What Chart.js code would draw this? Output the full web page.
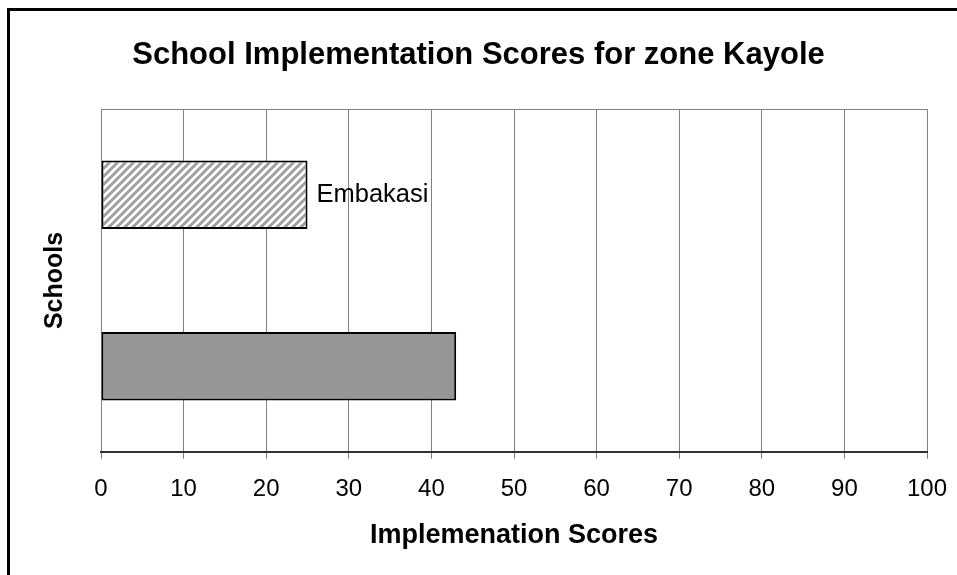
<!DOCTYPE html>
<html>
<head>
<meta charset="utf-8">
<script src="https://cdn.jsdelivr.net/npm/chart.js@4/dist/chart.umd.min.js"></script>
<style>
  html, body { margin: 0; padding: 0; background: #fff; }
  canvas { display: block; }
</style>
</head>
<body>
<canvas id="chart" width="957" height="575"></canvas>
<script>
const schools = ['Embakasi', 'Kayole'];
const barLabels = ['Embakasi', ''];
const scores = [25, 43];
const xTicks = [0, 10, 20, 30, 40, 50, 60, 70, 80, 90, 100];

const FONT = 'Arial, "Liberation Sans", sans-serif';

function makeHatch() {
  const s = 8;
  const c = document.createElement('canvas');
  c.width = s;
  c.height = s;
  const g = c.getContext('2d');
  g.fillStyle = '#fff';
  g.fillRect(0, 0, s, s);
  g.strokeStyle = '#a0a0a0';
  g.lineWidth = 3;
  g.beginPath();
  g.moveTo(-2, 2); g.lineTo(2, -2);
  g.moveTo(0, s); g.lineTo(s, 0);
  g.moveTo(s - 2, s + 2); g.lineTo(s + 2, s - 2);
  g.stroke();
  return g.createPattern(c, 'repeat');
}

const pageFrame = {
  id: 'pageFrame',
  beforeDraw(chart) {
    const ctx = chart.ctx;
    ctx.save();
    ctx.fillStyle = '#fff';
    ctx.fillRect(0, 0, chart.width, chart.height);
    ctx.strokeStyle = '#000';
    ctx.lineWidth = 3;
    ctx.strokeRect(8.5, 9.5, chart.width + 20, chart.height + 20);
    ctx.restore();
  },
  beforeDatasetsDraw(chart) {
    const a = chart.chartArea;
    const ctx = chart.ctx;
    ctx.save();
    ctx.strokeStyle = '#808080';
    ctx.lineWidth = 1;
    ctx.beginPath();
    ctx.moveTo(a.left, Math.round(a.top) + 0.5);
    ctx.lineTo(a.right, Math.round(a.top) + 0.5);
    ctx.stroke();
    ctx.restore();
  }
};

const barText = {
  id: 'barText',
  afterDatasetsDraw(chart) {
    const ctx = chart.ctx;
    const meta = chart.getDatasetMeta(0);
    ctx.save();
    ctx.font = '25.5px ' + FONT;
    ctx.fillStyle = '#000';
    ctx.textAlign = 'left';
    ctx.textBaseline = 'middle';
    meta.data.forEach((bar, i) => {
      if (barLabels[i]) ctx.fillText(barLabels[i], bar.x + 9, bar.y);
    });
    ctx.restore();
  }
};

new Chart(document.getElementById('chart').getContext('2d'), {
  type: 'bar',
  data: {
    labels: schools,
    datasets: [{
      data: scores,
      backgroundColor: [makeHatch(), '#969696'],
      borderColor: '#000',
      borderWidth: 2,
      borderSkipped: false,
      barPercentage: 0.4,
      categoryPercentage: 1
    }]
  },
  options: {
    indexAxis: 'y',
    responsive: false,
    animation: false,
    devicePixelRatio: 1,
    layout: { padding: { top: 10, left: 30, right: 30, bottom: 10 } },
    plugins: {
      legend: { display: false },
      tooltip: { enabled: false },
      title: {
        display: true,
        text: 'School Implementation Scores for zone Kayole',
        color: '#000',
        font: { family: FONT, size: 31, weight: 'bold' },
        padding: { top: 27, bottom: 35 }
      }
    },
    scales: {
      x: {
        min: 0,
        max: 100,
        afterBuildTicks(scale) {
          scale.ticks = xTicks.map(v => ({ value: v }));
        },
        afterFit(scale) {
          scale.paddingLeft = 0;
          scale.paddingRight = 0;
        },
        ticks: {
          color: '#000',
          font: { family: FONT, size: 24 },
          padding: 16,
          maxRotation: 0
        },
        grid: { color: '#808080', tickColor: '#808080', lineWidth: 1, tickLength: 7 },
        border: { color: '#303030', width: 2 },
        title: {
          display: true,
          text: 'Implemenation Scores',
          color: '#000',
          font: { family: FONT, size: 27, weight: 'bold' },
          padding: { top: 0, bottom: 13 }
        }
      },
      y: {
        ticks: { display: false },
        grid: { display: false },
        border: { display: false },
        title: {
          display: true,
          text: 'Schools',
          color: '#000',
          font: { family: FONT, size: 25, weight: 'bold' },
          padding: { top: 10, bottom: 23 }
        }
      }
    }
  },
  plugins: [pageFrame, barText]
});
</script>
</body>
</html>
